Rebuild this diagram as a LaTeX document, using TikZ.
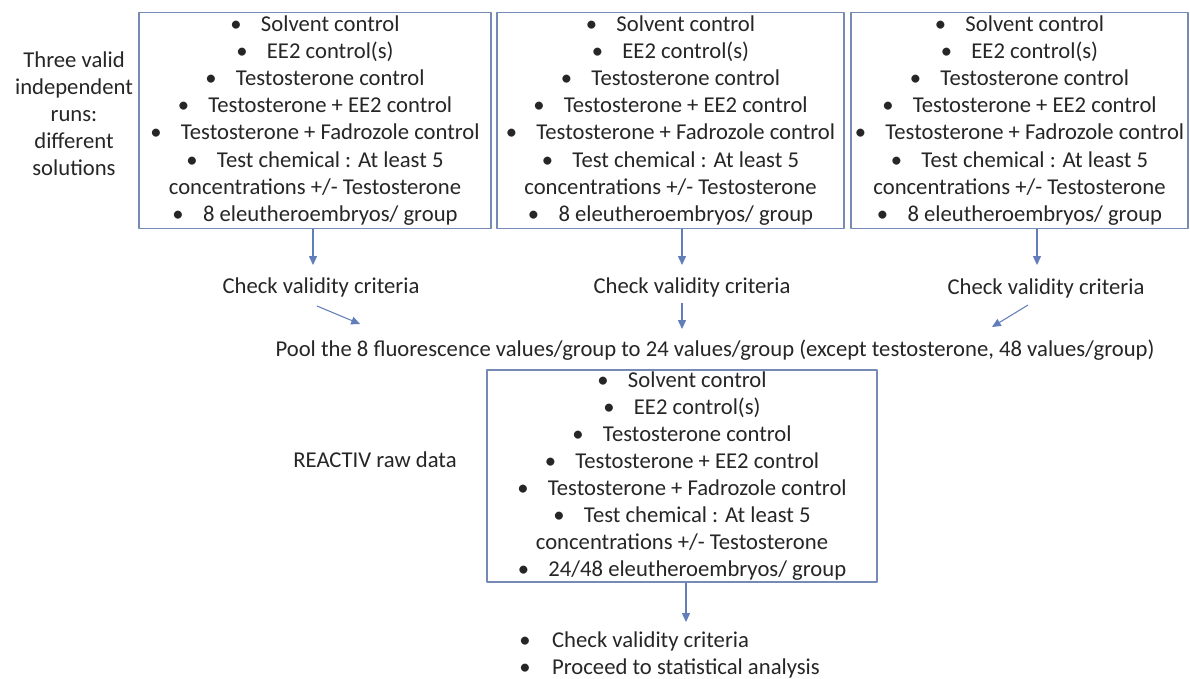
\documentclass[tikz,border=0pt]{standalone}
\usepackage{fontspec}
\setmainfont{Carlito}
\usetikzlibrary{arrows.meta}
\definecolor{boxline}{RGB}{118,138,182}
\definecolor{arrline}{RGB}{98,126,186}
\definecolor{ink}{RGB}{38,38,38}
\newcommand{\bl}{\textbullet\hspace{0.85em}}
\newcommand{\runlist}[1]{\bl Solvent control\\ \bl EE2 control(s)\\ \bl Testosterone control\\
  \bl Testosterone + EE2 control\\ \bl Testosterone + Fadrozole control\\
  \bl Test chemical : At least 5\\ concentrations +/- Testosterone\\ \bl #1 eleutheroembryos/ group}
\begin{document}
\begin{tikzpicture}[x=0.02cm,y=-0.02cm, font=\fontsize{12.9}{15.4}\selectfont, text=ink, line join=round,
	runbox/.style={draw=boxline, line width=0.8pt, align=center, inner sep=0pt},
	txt/.style={align=center, inner sep=0pt},
	link/.style={draw=arrline, line width=0.6pt, -{Triangle[length=5pt,width=4.5pt]}}]
	\clip (0,0) rectangle (1190,679);
	\fill[white] (0,0) rectangle (1190,679);
	% three runs
	\node[txt] (runs) at (74,114) {Three valid\\independent\\runs:\\different\\solutions};
	\node[runbox, minimum width=7.04cm, minimum height=4.31cm] (run1) at (315,120.5) {\runlist{8}};
	\node[runbox, minimum width=6.94cm, minimum height=4.31cm] (run2) at (670.5,120.5) {\runlist{8}};
	\node[runbox, minimum width=6.74cm, minimum height=4.31cm] (run3) at (1019.5,120.5) {\runlist{8}};
	\node[txt] (chk1) at (321,287) {Check validity criteria};
	\node[txt] (chk2) at (692,287) {Check validity criteria};
	\node[txt] (chk3) at (1046,288) {Check validity criteria};
	\coordinate (t1) at (313,265);
	\coordinate (t2) at (682,265);
	\coordinate (t3) at (1037,265);
	\draw[link] (run1.south -| t1) -- (t1);
	\draw[link] (run2.south -| t2) -- (t2);
	\draw[link] (run3.south -| t3) -- (t3);
	% pooling
	\node[txt] (pool) at (715,350) {Pool the 8 fluorescence values/group to 24 values/group (except testosterone, 48 values/group)};
	\coordinate (s1) at (317,306); \coordinate (e1) at (360,324);
	\coordinate (s2) at (682,303); \coordinate (e2) at (682,329);
	\coordinate (s3) at (1028,305); \coordinate (e3) at (992,327);
	\draw[link] (s1) -- (e1);
	\draw[link] (s2) -- (e2);
	\draw[link] (s3) -- (e3);
	% raw data
	\node[txt] (raw) at (375,460) {REACTIV raw data};
	\node[runbox, minimum width=7.8cm, minimum height=4.24cm] (data) at (682,476) {\runlist{24/48}};
	\coordinate (t4) at (686,622);
	\draw[link] (data.south -| t4) -- (t4);
	\node[txt, align=left, anchor=west] (next) at (519,655) {\textbullet\hspace{0.95em}Check validity criteria\\
		\textbullet\hspace{0.95em}Proceed to statistical analysis};
\end{tikzpicture}
\end{document}
